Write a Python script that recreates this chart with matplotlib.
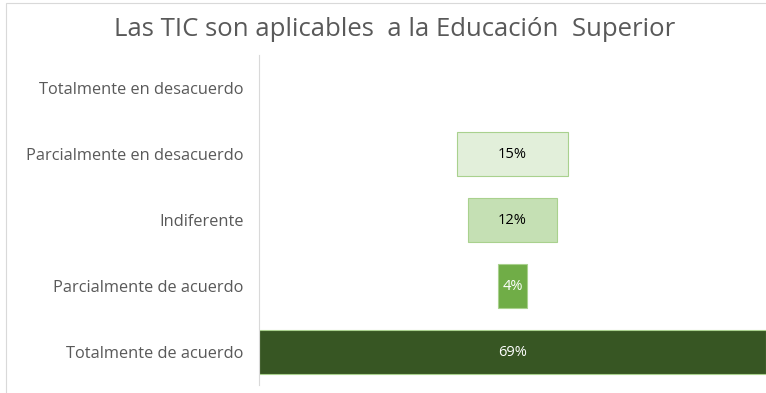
import matplotlib.pyplot as plt
from matplotlib.patches import Rectangle

# data
categories = ['Totalmente en desacuerdo', 'Parcialmente en desacuerdo', 'Indiferente',
              'Parcialmente de acuerdo', 'Totalmente de acuerdo']
values = [0, 15, 12, 4, 69]
labels = ['', '15%', '12%', '4%', '69%']
colors = ['#E2EFDA', '#E2EFDA', '#C5E0B4', '#70AD47', '#375623']
text_colors = ['#000000', '#000000', '#000000', '#FFFFFF', '#FFFFFF']

plt.rcParams['font.family'] = ['Open Sans', 'DejaVu Sans']

fig = plt.figure(figsize=(7.66, 3.93), dpi=100)
fig.patches.append(Rectangle((6/766, -0.1), 1.2, 1 - 3/393 + 0.1, transform=fig.transFigure,
                             fill=False, edgecolor='#D9D9D9', lw=0.8))
ax = fig.add_axes([259/766, 8/393, 1 - 259/766, (393 - 55 - 8)/393])

total = max(values)
y = list(range(len(categories)))
lefts = [(total - v) / 2 for v in values]
for i, v in enumerate(values):
    if v == 0:
        continue
    ax.barh(y[i], v, left=lefts[i], height=0.68, color=colors[i], edgecolor='#A9D18E', linewidth=0.8)
    ax.text(total / 2, i, labels[i], ha='center', va='center', fontsize=10.5, color=text_colors[i])

ax.set_xlim(0, total)
ax.set_ylim(len(categories) - 0.5, -0.5)
ax.set_yticks(y)
ax.set_yticklabels(categories, fontsize=11.8, color='#595959')
ax.tick_params(axis='y', length=0, pad=11)
ax.set_xticks([])
for s in ['top', 'right', 'bottom']:
    ax.spines[s].set_visible(False)
ax.spines['left'].set_color('#D9D9D9')

fig.text(395/766, 1 - 30/393, 'Las TIC son aplicables  a la Educación  Superior', ha='center', va='center',
         fontsize=18.5, color='#595959')

fig.savefig('out.png', dpi=100)
